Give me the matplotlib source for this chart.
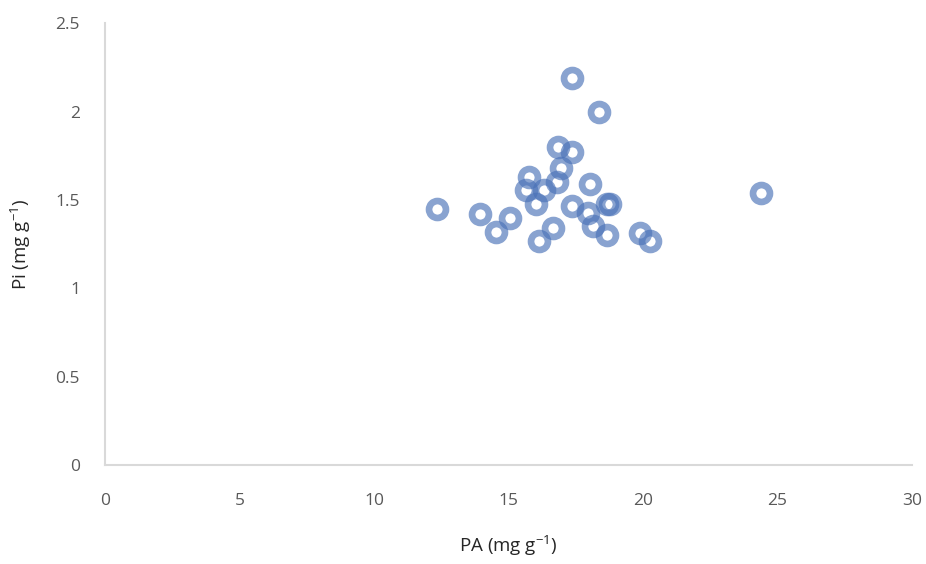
import matplotlib.pyplot as plt

plt.rcParams['font.family'] = ['Open Sans', 'DejaVu Sans']
plt.rcParams['mathtext.default'] = 'regular'

# 데이터
pa = [17.37, 18.38, 16.85, 17.35, 16.95, 15.77, 16.79, 18.03, 15.65, 16.32,
      16.02, 12.33, 13.94, 15.06, 14.54, 17.35, 17.97, 18.65, 18.77, 18.15,
      18.65, 16.67, 16.15, 19.89, 20.26, 24.39]
pi = [2.19, 2.00, 1.80, 1.77, 1.68, 1.63, 1.60, 1.59, 1.555, 1.555,
      1.476, 1.446, 1.42, 1.40, 1.32, 1.465, 1.427, 1.476, 1.476, 1.35,
      1.30, 1.34, 1.27, 1.31, 1.27, 1.54]

fig = plt.figure(figsize=(9.26, 5.64), dpi=100)
ax = fig.add_axes([0.1134, 0.1755, 0.8716, 0.7835])

ax.plot(pa, pi, linestyle='none', marker='o', markersize=12.2,
        markeredgewidth=4.8, markerfacecolor='none',
        markeredgecolor='#4a72b8', alpha=0.65)

ax.set_xlim(0, 30)
ax.set_ylim(0, 2.5)
ax.set_xticks([0, 5, 10, 15, 20, 25, 30])
ax.set_yticks([0, 0.5, 1, 1.5, 2, 2.5])
ax.set_yticklabels(['0', '0.5', '1', '1.5', '2', '2.5'])

for s in ['top', 'right']:
    ax.spines[s].set_visible(False)
for s in ['left', 'bottom']:
    ax.spines[s].set_color('#d9d9d9')
    ax.spines[s].set_linewidth(1.5)

ax.tick_params(length=0, labelsize=12.5, labelcolor='#595959')
ax.tick_params(axis='x', pad=20)
ax.tick_params(axis='y', pad=18)

ax.set_xlabel('PA (mg g$^{-1}$)', fontsize=13.5, color='#262626', labelpad=18)
ax.set_ylabel('Pi (mg g$^{-1}$)', fontsize=13.5, color='#262626', labelpad=16)

fig.savefig('out.png', dpi=100)
